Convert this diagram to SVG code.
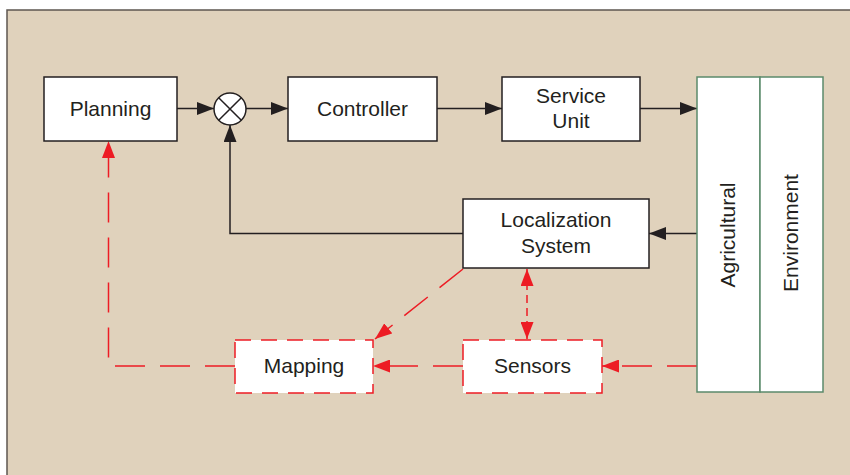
<svg xmlns="http://www.w3.org/2000/svg" width="850" height="475" viewBox="0 0 850 475">
  <style>
    text { font-family: "Liberation Sans", Arial, sans-serif; font-size: 21px; fill: #231f20; text-anchor: middle; }
    .box { fill: #ffffff; stroke: #231f20; stroke-width: 1.5; }
    .rbox { fill: #ffffff; stroke: #ed1c24; stroke-width: 1.5; stroke-dasharray: 16 10; }
    .env { fill: #ffffff; stroke: #5b8a6b; stroke-width: 1.5; }
    .wire { fill: none; stroke: #231f20; stroke-width: 1.5; }
    .rwire { fill: none; stroke: #ed1c24; stroke-width: 1.5; stroke-dasharray: 30 15; }
    .rshort { fill: none; stroke: #ed1c24; stroke-width: 1.5; stroke-dasharray: 8 5; }
  </style>
  <defs>
    <marker id="arrowK" viewBox="0 0 17 13" refX="17" refY="6.5" markerWidth="17" markerHeight="13" markerUnits="userSpaceOnUse" orient="auto-start-reverse">
      <path d="M0,0 L17,6.5 L0,13 z" fill="#231f20"/>
    </marker>
    <marker id="arrowR" viewBox="0 0 17 13" refX="17" refY="6.5" markerWidth="17" markerHeight="13" markerUnits="userSpaceOnUse" orient="auto-start-reverse">
      <path d="M0,0 L17,6.5 L0,13 z" fill="#ed1c24"/>
    </marker>
  </defs>

  <!-- panel background -->
  <rect x="0" y="0" width="850" height="475" fill="#ffffff"/>
  <rect x="7" y="10" width="900" height="520" fill="#e0d2bc" stroke="#5e5750" stroke-width="1.5"/>

  <!-- connectors -->
  <g id="connectors">
    <path class="wire" d="M177,108.5 H214" marker-end="url(#arrowK)"/>
    <path class="wire" d="M246,108.5 H288" marker-end="url(#arrowK)"/>
    <path class="wire" d="M437,108.5 H502" marker-end="url(#arrowK)"/>
    <path class="wire" d="M640,108.5 H697" marker-end="url(#arrowK)"/>
    <path class="wire" d="M697,233.5 H649" marker-end="url(#arrowK)"/>
    <path class="wire" d="M463,233.5 H230 V125" marker-end="url(#arrowK)"/>

    <path class="rwire" d="M697,366 H602" marker-end="url(#arrowR)"/>
    <path class="rwire" d="M463,366 H373" marker-end="url(#arrowR)"/>
    <path class="rwire" d="M235,366 H108.5 V141" marker-end="url(#arrowR)"/>
    <path class="rwire" d="M463,269 L375,339" marker-end="url(#arrowR)"/>
    <path class="rshort" d="M527,269 V339" marker-start="url(#arrowR)" marker-end="url(#arrowR)"/>
  </g>

  <g id="planning">
    <rect class="box" x="44" y="77" width="133" height="64"/>
    <text x="110.5" y="116">Planning</text>
  </g>

  <g id="summing-junction">
    <circle cx="230" cy="109" r="16" fill="#ffffff" stroke="#231f20" stroke-width="1.5"/>
    <path d="M218.7,97.7 L241.3,120.3 M241.3,97.7 L218.7,120.3" stroke="#231f20" stroke-width="1.5"/>
  </g>

  <g id="controller">
    <rect class="box" x="288" y="77" width="149" height="64"/>
    <text x="362.5" y="116">Controller</text>
  </g>

  <g id="service-unit">
    <rect class="box" x="502" y="77" width="138" height="64"/>
    <text x="571" y="103">Service</text>
    <text x="571" y="128">Unit</text>
  </g>

  <g id="agricultural-environment">
    <rect class="env" x="697" y="77" width="63" height="315"/>
    <rect class="env" x="760" y="77" width="63" height="315"/>
    <text transform="translate(735,235) rotate(-90)">Agricultural</text>
    <text transform="translate(798,233) rotate(-90)">Environment</text>
  </g>

  <g id="localization-system">
    <rect class="box" x="463" y="199" width="186" height="69"/>
    <text x="556" y="227">Localization</text>
    <text x="556" y="253">System</text>
  </g>

  <g id="mapping">
    <rect class="rbox" x="235" y="340" width="138" height="53"/>
    <text x="304" y="373">Mapping</text>
  </g>

  <g id="sensors">
    <rect class="rbox" x="463" y="340" width="139" height="53"/>
    <text x="532.5" y="373">Sensors</text>
  </g>
</svg>
